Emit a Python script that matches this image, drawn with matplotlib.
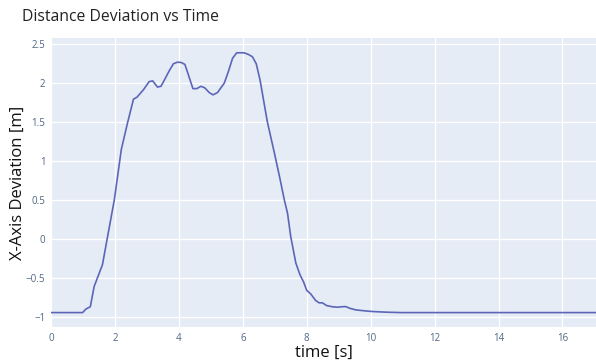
import matplotlib
matplotlib.use("Agg")
import matplotlib.pyplot as plt

time_s = [0.0, 0.5, 0.99, 1.09, 1.23, 1.35, 1.61, 1.77, 1.98, 2.2, 2.4, 2.58, 2.69, 2.9,
          3.07, 3.18, 3.33, 3.44, 3.56, 3.7, 3.83, 3.96, 4.08, 4.19, 4.32, 4.44, 4.56,
          4.69, 4.81, 4.95, 5.07, 5.21, 5.42, 5.55, 5.68, 5.81, 5.95, 6.04, 6.17, 6.30,
          6.42, 6.54, 6.77, 6.98, 7.16, 7.30, 7.40, 7.5, 7.66, 7.79, 7.90, 8.0, 8.125,
          8.28, 8.39, 8.49, 8.625, 8.8, 8.96, 9.1, 9.22, 9.35, 9.53, 9.75, 10.0, 10.5,
          10.94, 12.0, 13.0, 14.0, 15.0, 16.0, 17.05]
deviation_m = [-0.945, -0.945, -0.945, -0.90, -0.87, -0.61, -0.33, 0.03, 0.5, 1.15, 1.5,
               1.795, 1.82, 1.92, 2.02, 2.03, 1.95, 1.96, 2.05, 2.16, 2.25, 2.27, 2.265,
               2.24, 2.08, 1.93, 1.93, 1.96, 1.94, 1.88, 1.85, 1.88, 2.0, 2.15, 2.32, 2.39,
               2.39, 2.39, 2.37, 2.34, 2.25, 2.04, 1.50, 1.12, 0.78, 0.50, 0.33, 0.03, -0.31,
               -0.46, -0.55, -0.66, -0.705, -0.79, -0.82, -0.82, -0.855, -0.87, -0.876,
               -0.87, -0.868, -0.89, -0.91, -0.92, -0.93, -0.94, -0.945, -0.945, -0.945,
               -0.945, -0.945, -0.945, -0.945]
x_ticks = [0, 2, 4, 6, 8, 10, 12, 14, 16]
y_ticks = [-1, -0.5, 0, 0.5, 1, 1.5, 2, 2.5]
y_tick_labels = ["\u22121", "\u22120.5", "0", "0.5", "1", "1.5", "2", "2.5"]

plt.rcParams['font.family'] = ['Open Sans', 'DejaVu Sans']

W, H = 596, 361
fig = plt.figure(figsize=(W / 100, H / 100), dpi=100)
left, right, top, bottom = 51, 596, 38, 327
ax = fig.add_axes([left / W, 1 - bottom / H, (right - left) / W, (bottom - top) / H])
ax.set_facecolor('#E5ECF6')
ax.plot(time_s, deviation_m, color='#5c66b8', linewidth=1.2)
ax.set_xlim(0, 17.05)
ax.set_ylim(-1.13, 2.58)
ax.set_xticks(x_ticks)
ax.set_yticks(y_ticks)
ax.set_yticklabels(y_tick_labels)
ax.grid(True, color='white', linewidth=1.0)
ax.set_axisbelow(True)
for s in ax.spines.values():
    s.set_visible(False)
ax.tick_params(length=0, labelsize=7.0, colors='#506784', pad=4)
ax.set_xlabel('time [s]', fontsize=12, color='#111111', labelpad=1)
ax.set_ylabel('X-Axis Deviation [m]', fontsize=12, color='#111111', labelpad=0)
fig.text(22 / W, 1 - 17 / H, 'Distance Deviation vs Time', fontsize=11.3,
         color='#222222', va='center', ha='left')
fig.savefig('out.png', dpi=100)
